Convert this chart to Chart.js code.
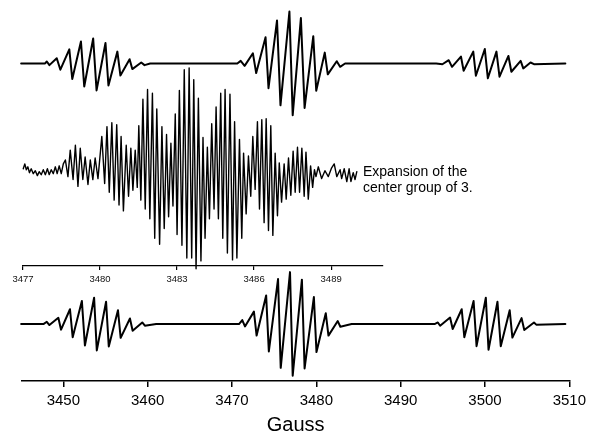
<!DOCTYPE html>
<html>
<head>
<meta charset="utf-8">
<script src="https://cdn.jsdelivr.net/npm/chart.js@4/dist/chart.umd.min.js"></script>
<style>
  html, body { margin: 0; padding: 0; background: #fff; }
  #wrap { position: relative; width: 591px; height: 435px; }
  #wrap canvas { position: absolute; left: 0; top: 0; }
  #note {
    position: absolute; left: 363px; top: 163px;
    font: 14px "Liberation Sans", Arial, sans-serif; line-height: 16px; color: #000;
  }
</style>
</head>
<body>
<div id="wrap">
  <canvas id="mainChart" width="591" height="435"></canvas>
  <canvas id="zoomChart" width="591" height="300"></canvas>
  <div id="note">Expansion of the<br>center group of 3.</div>
</div>
<script>
// field axis ticks (Gauss)
const mainTicks = [3450, 3460, 3470, 3480, 3490, 3500, 3510];
const zoomTicks = [3477, 3480, 3483, 3486, 3489];

// upper trace: measured spectrum, three groups (field in G, signal in arb. units)
const topField = [
  3445.0, 3447.84, 3448.04, 3448.35, 3449.22, 3449.65, 3450.71, 3451.06, 3452.09, 3452.48,
  3453.54, 3453.94, 3455.00, 3455.35, 3456.41, 3456.77, 3457.86, 3458.18, 3459.24, 3459.63, 3460.3,
  3470.63, 3471.03, 3471.50, 3472.48, 3472.87, 3473.98, 3474.33, 3475.34, 3475.75, 3476.81,
  3477.20, 3478.17, 3478.61, 3479.64, 3479.99, 3481.00, 3481.36, 3482.42, 3482.82, 3483.41,
  3494.21, 3494.95, 3495.70, 3496.09, 3497.15, 3497.47, 3498.61, 3498.92, 3499.98, 3500.34, 3501.36,
  3501.72, 3502.78, 3503.13, 3504.23, 3504.54, 3505.40, 3505.81, 3509.53
];
const topSignal = [
  0, 0, 2, -1.7, 5.3, -6.3, 14.3, -15.7, 22.3, -23.3,
  25.3, -27.3, 20.7, -22.3, 12, -12.3, 4.3, -5.7, 1, -1.7, 0,
  0, 2.6, -2.4, 10.3, -9.7, 26.6, -25, 43.6, -42.4, 52.6,
  -52.4, 46, -45, 27.6, -27.7, 11, -11, 2.3, -3.4, 0,
  0, -0.8, 3.3, -3.4, 7, -7.4, 12, -12.4, 14.6, -15, 12,
  -13.4, 7.6, -8.4, 2.6, -5, 1, -0.7, 0
];

// lower trace: simulated spectrum
const simField = [
  3445.0, 3447.64, 3448.04, 3448.35, 3449.41, 3449.73, 3450.79, 3451.11, 3452.20, 3452.56,
  3453.65, 3453.97, 3455.07, 3455.39, 3456.48, 3456.80, 3457.90, 3458.22, 3459.36, 3459.67, 3461.01,
  3470.83, 3471.22, 3471.54, 3472.60, 3472.92, 3474.05, 3474.37, 3475.46, 3475.78, 3476.88,
  3477.20, 3478.29, 3478.61, 3479.71, 3480.02, 3481.12, 3481.44, 3482.54, 3482.85, 3484.19,
  3494.02, 3494.41, 3494.68, 3495.86, 3496.17, 3497.24, 3497.55, 3498.65, 3499.00, 3500.10,
  3500.42, 3501.48, 3501.87, 3502.93, 3503.25, 3504.34, 3504.66, 3505.81, 3506.08, 3509.53
];
const simSignal = [
  0, 0, 2.3, -1, 6.3, -5.7, 15, -13.4, 23.3, -21.7,
  26.6, -26.7, 22.6, -22.7, 14, -14, 5.6, -6.7, 1.6, -1.7, 0,
  0, 4, -2.4, 12.6, -11.7, 29, -27.7, 45.6, -44.4, 52.6,
  -52.4, 45, -45, 27.3, -28.4, 11, -11.7, 3, -2.7, 0,
  0, 1.6, -1.7, 6.6, -5, 15, -13.4, 23.3, -22.4, 26.6,
  -26, 22.6, -22.4, 14, -13.7, 6, -6, 1.6, -0.6, 0
];

// middle trace: expanded centre group
const zoomField = [
  3477.01, 3477.07, 3477.13, 3477.19, 3477.25, 3477.32, 3477.40, 3477.48, 3477.56, 3477.63,
  3477.71, 3477.79, 3477.87, 3477.95, 3478.02, 3478.10, 3478.18, 3478.26, 3478.33, 3478.41,
  3478.49, 3478.57, 3478.65, 3478.75, 3478.84, 3478.95, 3479.04, 3479.14, 3479.23, 3479.33,
  3479.42, 3479.53, 3479.62, 3479.72, 3479.81, 3479.92, 3480.07, 3480.18, 3480.27, 3480.36,
  3480.46, 3480.55, 3480.65, 3480.74, 3480.82, 3480.91, 3481.02, 3481.11, 3481.20, 3481.28,
  3481.37, 3481.45, 3481.51, 3481.59, 3481.67, 3481.76, 3481.85, 3481.94, 3482.04, 3482.13,
  3482.21, 3482.32, 3482.41, 3482.50, 3482.59, 3482.67, 3482.76, 3482.84, 3482.93, 3483.00,
  3483.09, 3483.19, 3483.28, 3483.38, 3483.47, 3483.57, 3483.65, 3483.74, 3483.83, 3483.93,
  3484.01, 3484.09, 3484.18, 3484.26, 3484.35, 3484.44, 3484.52, 3484.61, 3484.70, 3484.78,
  3484.87, 3484.96, 3485.06, 3485.16, 3485.24, 3485.33, 3485.43, 3485.52, 3485.59, 3485.69,
  3485.78, 3485.87, 3485.95, 3486.04, 3486.13, 3486.21, 3486.30, 3486.39, 3486.47, 3486.56,
  3486.65, 3486.73, 3486.82, 3486.91, 3486.98, 3487.07, 3487.17, 3487.25, 3487.34, 3487.43,
  3487.52, 3487.60, 3487.69, 3487.77, 3487.86, 3487.95, 3488.02, 3488.11, 3488.20, 3488.28,
  3488.35, 3488.41, 3488.50, 3488.63, 3488.76, 3488.89, 3489.02, 3489.12, 3489.22, 3489.35,
  3489.41, 3489.51, 3489.61, 3489.70, 3489.77, 3489.86, 3489.93, 3490.00
];
const zoomSignal = [
  1, 6, 0, 3, -3, 1, -4, -1, -6, -2,
  -5, 0, -5, 1, -5, 0, -4, 3, -4, 4,
  -4, 6, 10, -7, 20, -10, 25, -17, 22, -10,
  13, -15, 10, -10, 12, -9, 34, -14, 44, -23,
  48, -31, 46, -36, 34, -42, 25, -27, 22, -21,
  20, -18, 45, -31, 72, -40, 82, -50, 78, -70,
  62, -76, 44, -60, 36, -48, 27, -37, 57, -66,
  81, -77, 102, -90, 104, -90, 92, -101, 73, -93,
  33, -70, 23, -50, 47, -40, 64, -50, 78, -70,
  82, -85, 77, -92, 49, -90, 31, -70, 17, -45,
  14, -27, 34, -20, 49, -40, 51, -54, 52, -62,
  45, -67, 17, -47, 7, -33, 6, -30, 12, -26,
  19, -23, 23, -23, 22, -27, 18, -30, 4, -18,
  0, -7, 3, -9, -1, -7, 2, 6, -7, 0,
  -9, 1, -12, 1, -12, -3, -10, -2
];

const pts = (xs, ys) => xs.map((x, i) => ({ x: x, y: ys[i] }));
const family = '"Liberation Sans", Arial, sans-serif';

const trace = (data, axis, width) => ({
  data: data, yAxisID: axis, borderColor: '#000', borderWidth: width,
  pointRadius: 0, tension: 0, borderJoinStyle: 'round', borderCapStyle: 'round', clip: false
});

new Chart(document.getElementById('mainChart'), {
  type: 'line',
  data: {
    datasets: [
      trace(pts(topField, topSignal), 'yTop', 2),
      trace(pts(simField, simSignal), 'yBot', 2)
    ]
  },
  options: {
    responsive: false,
    animation: false,
    events: [],
    layout: { padding: { left: 22, right: 19, top: 0, bottom: 0 } },
    plugins: { legend: { display: false }, tooltip: { enabled: false } },
    scales: {
      x: {
        type: 'linear',
        min: 3445.1,
        max: 3510,
        afterBuildTicks: s => { s.ticks = mainTicks.map(v => ({ value: v })); },
        grid: { drawOnChartArea: false, drawTicks: true, tickLength: 6, color: '#000', lineWidth: 1.5 },
        border: { display: true, color: '#000', width: 1.5 },
        ticks: { color: '#000', padding: 5, font: { family: family, size: 15 }, maxRotation: 0, callback: v => String(v) },
        title: { display: true, text: 'Gauss', color: '#000', font: { family: family, size: 20, lineHeight: 1 }, padding: { top: 0, bottom: 0 } }
      },
      yTop: { display: false, min: -321.7, max: 64.3 },
      yBot: { display: false, min: -57.7, max: 328.3 }
    }
  }
});

new Chart(document.getElementById('zoomChart'), {
  type: 'line',
  data: {
    datasets: [ trace(pts(zoomField, zoomSignal), 'y', 1.4) ]
  },
  options: {
    responsive: false,
    animation: false,
    events: [],
    layout: { padding: { left: 23, right: 208, top: 60, bottom: 10.5 } },
    plugins: { legend: { display: false }, tooltip: { enabled: false } },
    scales: {
      x: {
        type: 'linear',
        min: 3477,
        max: 3491.02,
        afterBuildTicks: s => { s.ticks = zoomTicks.map(v => ({ value: v })); },
        grid: { drawOnChartArea: false, drawTicks: true, tickLength: 5, color: '#000', lineWidth: 1.2 },
        border: { display: true, color: '#000', width: 1.2 },
        ticks: { color: '#111', padding: 4, font: { family: family, size: 9.5 }, maxRotation: 0, callback: v => String(v) }
      },
      y: { display: false, min: -97.3, max: 112 }
    }
  }
});
</script>
</body>
</html>
